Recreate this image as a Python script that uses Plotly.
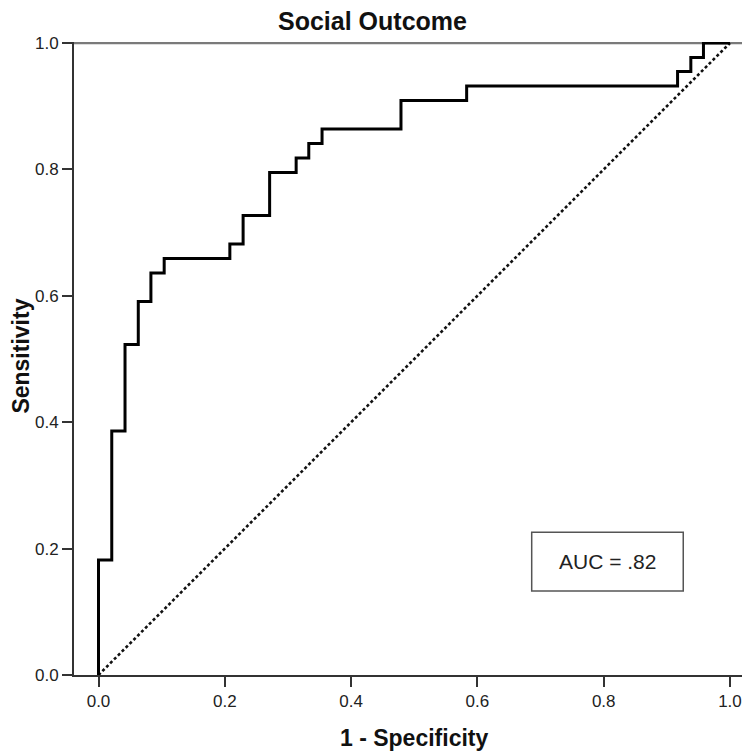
import plotly.graph_objects as go

# ROC step curve (1 - specificity, sensitivity)
fpr = [0.0, 0.0, 0.021, 0.042, 0.063, 0.083, 0.104, 0.208, 0.229, 0.271,
       0.313, 0.333, 0.354, 0.479, 0.583, 0.917, 0.938, 0.958, 1.0]
tpr = [0.0, 0.182, 0.386, 0.523, 0.591, 0.636, 0.659, 0.682, 0.727, 0.795,
       0.818, 0.841, 0.864, 0.909, 0.932, 0.955, 0.977, 1.0, 1.0]

ref_x = [0.0, 1.0]
ref_y = [0.0, 1.0]

tick_vals = [0.0, 0.2, 0.4, 0.6, 0.8, 1.0]
tick_text = ["0.0", "0.2", "0.4", "0.6", "0.8", "1.0"]

title_text = "Social Outcome"
x_title = "1 - Specificity"
y_title = "Sensitivity"
auc_label = "AUC = .82"
auc_box_x = [0.686, 0.926]
auc_box_y = [0.133, 0.226]

FONT = "Liberation Sans, Arial, sans-serif"

fig = go.Figure()
fig.add_trace(go.Scatter(x=ref_x, y=ref_y, mode="lines",
                         line=dict(color="#111111", width=2.6, dash="3px,2.5px"),
                         hoverinfo="skip", showlegend=False))
fig.add_trace(go.Scatter(x=fpr, y=tpr, mode="lines", line_shape="hv",
                         line=dict(color="#000000", width=3),
                         showlegend=False))

# gray top reference line at sensitivity = 1
fig.add_shape(type="line", xref="paper", yref="y", x0=0, x1=1, y0=1, y1=1,
              line=dict(color="#7a7a7a", width=2.4), layer="below")
# AUC box
fig.add_shape(type="rect", xref="x", yref="y",
              x0=auc_box_x[0], x1=auc_box_x[1], y0=auc_box_y[0], y1=auc_box_y[1],
              line=dict(color="#555555", width=1.5), fillcolor="white", layer="below")
fig.add_annotation(x=sum(auc_box_x) / 2, y=sum(auc_box_y) / 2, xref="x", yref="y",
                   text=auc_label, showarrow=False,
                   font=dict(family=FONT, size=21, color="#222222"))

fig.add_annotation(x=0.441, y=1.0327, xref="paper", yref="paper", text="<b>%s</b>" % title_text,
                   showarrow=False, xanchor="center", yanchor="middle",
                   font=dict(family=FONT, size=25, color="#111111"))
fig.add_annotation(x=0.503, y=-0.0995, xref="paper", yref="paper", text="<b>%s</b>" % x_title,
                   showarrow=False, xanchor="center", yanchor="middle",
                   font=dict(family=FONT, size=23, color="#111111"))
fig.add_annotation(x=-0.0784, y=0.503, xref="paper", yref="paper", text="<b>%s</b>" % y_title,
                   showarrow=False, xanchor="center", yanchor="middle", textangle=-90,
                   font=dict(family=FONT, size=23, color="#111111"))

axis_common = dict(showgrid=False, zeroline=False, ticks="outside", ticklen=10,
                   tickwidth=2, tickcolor="#333333", showline=True, linewidth=2,
                   linecolor="#333333", tickvals=tick_vals, ticktext=tick_text,
                   tickfont=dict(family=FONT, size=17, color="#222222"))

# page body has an 8px default margin, so margins are shifted by 8px
fig.update_layout(
    width=750, height=755,
    margin=dict(l=66, r=8, t=34, b=88),
    plot_bgcolor="white", paper_bgcolor="white",
    xaxis=dict(range=[-0.0388, 1.0317], **axis_common),
    yaxis=dict(range=[0, 1.0016], **axis_common),
)

fig.write_html("out.html")
